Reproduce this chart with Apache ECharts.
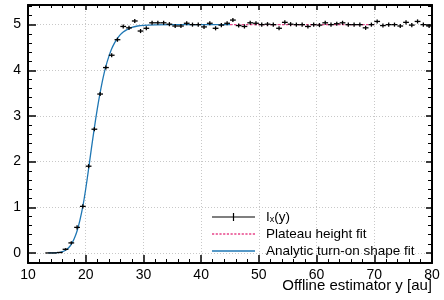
<!DOCTYPE html>
<html><head><meta charset="utf-8">
<script src="https://cdn.jsdelivr.net/npm/echarts@6/dist/echarts.min.js"></script>
<style>html,body{margin:0;padding:0;background:#fff}#c{width:444px;height:300px}</style>
</head><body><div id="c"></div>
<script>
// ---- data ----
const binX = [13.5,14.5,15.5,16.5,17.5,18.5,19.5,20.5,21.5,22.5,23.5,24.5,25.5,26.5,27.5,28.5,29.5,30.5,31.5,32.5,33.5,34.5,35.5,36.5,37.5,38.5,39.5,40.5,41.5,42.5,43.5,44.5,45.5,46.5,47.5,48.5,49.5,50.5,51.5,52.5,53.5,54.5,55.5,56.5,57.5,58.5,59.5,60.5,61.5,62.5,63.5,64.5,65.5,66.5,67.5,68.5,69.5,70.5,71.5,72.5,73.5,74.5,75.5,76.5,77.5,78.5,79.5];
const binY = [0,0,0.01,0.08,0.22,0.56,1.02,1.90,2.71,3.48,4.06,4.33,4.67,4.96,4.93,5.08,4.86,4.92,5.04,5.04,5.04,5.01,4.97,4.97,5.03,5.00,5.00,4.95,5.03,4.92,4.99,5.03,5.10,4.98,4.96,5.04,5.03,5.00,5.01,5.00,4.92,5.05,5.01,5.00,5.00,4.96,5.00,4.99,5.04,5.00,5.02,5.04,5.00,5.00,5.00,4.93,5.00,5.07,4.98,5.00,5.00,4.97,5.05,4.99,5.07,5.00,4.97];
const binErr = [0,0,0.005,0.025,0.035,0.045,0.045,0.045,0.045,0.045,0.045,0.045,0.045,0.045,0.045,0.045,0.045,0.045,0.045,0.045,0.045,0.045,0.045,0.045,0.045,0.045,0.045,0.045,0.045,0.045,0.045,0.045,0.045,0.045,0.045,0.045,0.045,0.045,0.045,0.045,0.045,0.045,0.045,0.045,0.045,0.045,0.045,0.045,0.045,0.045,0.045,0.045,0.045,0.045,0.045,0.045,0.045,0.045,0.045,0.045,0.045,0.045,0.045,0.045,0.045,0.045,0.045];
const binHalfWidth = 0.5;
const fitX = [13.5,14,14.5,15,15.5,16,16.5,17,17.5,18,18.5,19,19.5,20,20.5,21,21.5,22,22.5,23,23.5,24,24.5,25,25.5,26,26.5,27,28,29,30,32,35,40,45];
const fitY = [0,0.001,0.003,0.007,0.015,0.03,0.06,0.11,0.19,0.31,0.48,0.72,1.02,1.40,1.84,2.30,2.74,3.15,3.51,3.83,4.09,4.30,4.47,4.60,4.70,4.78,4.84,4.88,4.94,4.97,4.985,4.995,5.0,5.0,5.0];
const plateauX = [45, 70];
const plateauY = [5.0, 5.0];
const yMajorTicks = [0,1,2,3,4,5];
const yMinorTicks = [-0.2,0.2,0.4,0.6,0.8,1.2,1.4,1.6,1.8,2.2,2.4,2.6,2.8,3.2,3.4,3.6,3.8,4.2,4.4,4.6,4.8,5.2,5.4];
const seriesNames = ['I_x(y)', 'Plateau height fit', 'Analytic turn-on shape fit'];
const xTitle = 'Offline estimator y [au]';

// ---- chart ----
const FONT = 'Liberation Sans, Arial, Helvetica, sans-serif';
const X_MIN = 10, X_MAX = 80, Y_MIN = -0.22, Y_MAX = 5.43;
const chart = echarts.init(document.getElementById('c'), null, {renderer: 'canvas'});

const gridLine = {show: true, lineStyle: {color: '#c8c8c8', type: [1, 2], width: 1}};
const frameLine = {show: true, onZero: false, lineStyle: {color: '#000', width: 2}};

function xAx(pos, major, minor, labels, split) {
  return {type: 'value', position: pos, min: X_MIN, max: X_MAX, interval: 10,
    axisLine: frameLine,
    axisTick: {show: true, inside: true, length: major, lineStyle: {color: '#000', width: 1.5}},
    minorTick: {show: true, splitNumber: 5, length: minor, lineStyle: {color: '#000', width: 1}},
    axisLabel: labels ? {show: true, margin: 5, color: '#000', fontSize: 14, fontFamily: FONT} : {show: false},
    splitLine: split ? gridLine : {show: false}};
}
function yAx(pos, ticks, len, width, labels, split, line) {
  return {type: 'value', position: pos, min: Y_MIN, max: Y_MAX,
    axisLine: line ? frameLine : {show: false},
    axisTick: {show: true, inside: true, length: len, customValues: ticks, lineStyle: {color: '#000', width: width}},
    axisLabel: labels ? {show: true, margin: 7, color: '#000', fontSize: 14, fontFamily: FONT, customValues: ticks} : {show: false},
    splitLine: split ? gridLine : {show: false}};
}

const spacer = '{g|}';
const dashIcon = (function(){
  let p = 'path://'; let x = 0;
  while (x < 43) { const w = Math.min(2.2, 43 - x); p += 'M' + x + ',0h' + w + 'v1.5h-' + w + 'z '; x += 3.7; }
  return p;
})();

const option = {
  animation: false,
  textStyle: {fontFamily: FONT},
  grid: {left: 28, right: 12, top: 5, bottom: 37, containLabel: false},
  title: {text: xTitle, right: 12, top: 278, padding: 0,
    textStyle: {fontSize: 15, fontWeight: 'normal', color: '#000', fontFamily: FONT}},
  legend: {
    orient: 'vertical', left: 212, top: 209.5, padding: 0, itemGap: 2, itemWidth: 43, itemHeight: 8,
    symbolKeepAspect: true,
    data: [
      {name: seriesNames[0], icon: 'path://M0,3.4h43v1.2h-43z M20.9,0h1.2v8h-1.2z'},
      {name: seriesNames[1], icon: dashIcon},
      {name: seriesNames[2], icon: 'path://M0,0h43v1.3h-43z'}
    ],
    formatter: function(n) {
      if (n === seriesNames[0]) return spacer + 'I{sub|x}(y)';
      return spacer + n;
    },
    textStyle: {fontSize: 13.5, color: '#000', fontFamily: FONT, lineHeight: 15,
      rich: {g: {width: 6}, sub: {fontSize: 9, lineHeight: 8, verticalAlign: 'bottom'}}}
  },
  xAxis: [xAx('bottom', 8, 4, true, true), xAx('top', 5, 3, false, false)],
  yAxis: [
    yAx('left', yMajorTicks, 8, 1.5, true, true, true),
    yAx('left', yMinorTicks, 4, 1, false, false, false),
    yAx('right', yMajorTicks, 6, 1.5, false, false, true),
    yAx('right', yMinorTicks, 4, 1, false, false, false)
  ],
  series: [
    {
      name: seriesNames[0], type: 'custom', xAxisIndex: 0, yAxisIndex: 0, z: 5,
      itemStyle: {color: '#000'},
      data: binX.map((x, i) => [x, binY[i], binErr[i]]),
      renderItem: function(params, api) {
        const x = api.value(0), y = api.value(1), e = api.value(2);
        const a = api.coord([x - binHalfWidth, y]), b = api.coord([x + binHalfWidth, y]);
        const c = api.coord([x, y - e]), d = api.coord([x, y + e]);
        const st = {stroke: '#000', lineWidth: 1.3};
        return {type: 'group', children: [
          {type: 'line', shape: {x1: a[0], y1: a[1], x2: b[0], y2: b[1]}, style: st},
          {type: 'line', shape: {x1: c[0], y1: c[1], x2: d[0], y2: d[1]}, style: st}
        ]};
      }
    },
    {
      name: seriesNames[1], type: 'line', xAxisIndex: 0, yAxisIndex: 0, z: 3,
      data: plateauX.map((x, i) => [x, plateauY[i]]),
      showSymbol: false, symbol: 'none', color: '#e8458b',
      lineStyle: {color: '#e8458b', width: 1.4, type: [2.5, 1.5]}
    },
    {
      name: seriesNames[2], type: 'line', xAxisIndex: 0, yAxisIndex: 0, z: 4,
      data: fitX.map((x, i) => [x, fitY[i]]),
      smooth: 0.3, showSymbol: false, symbol: 'none', color: '#1f77b4',
      lineStyle: {color: '#1f77b4', width: 1.3}
    }
  ]
};
chart.setOption(option);
</script>
</body></html>
